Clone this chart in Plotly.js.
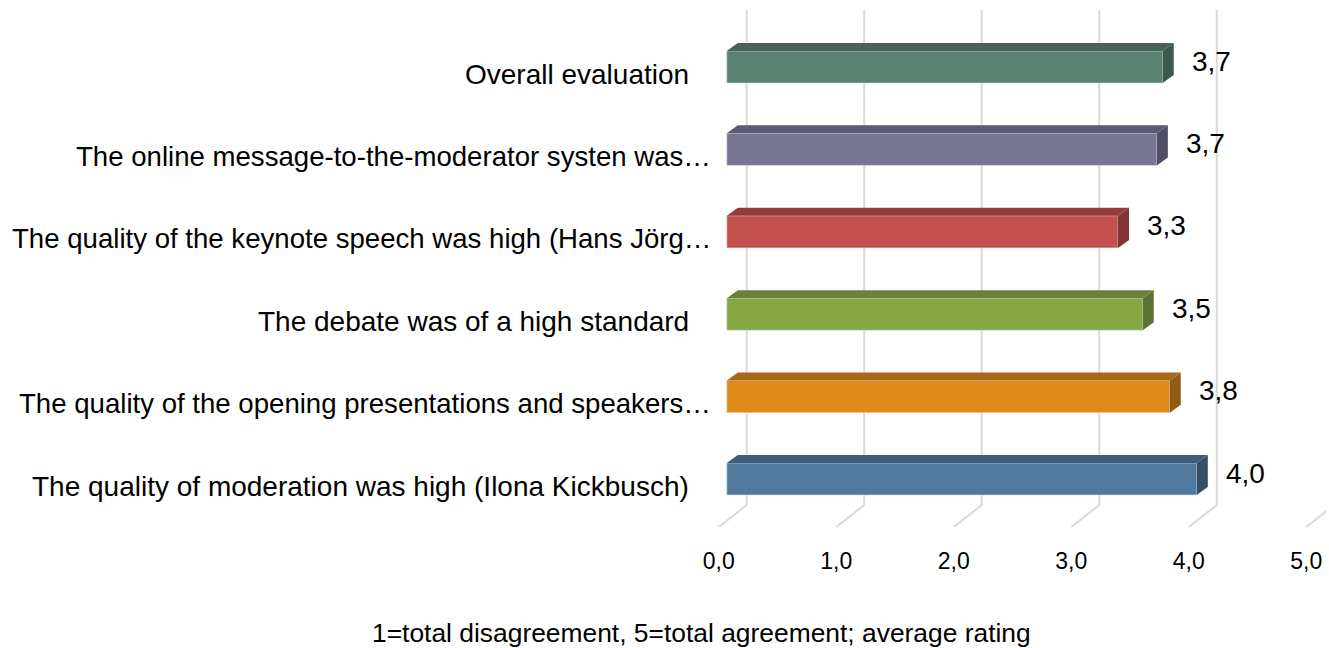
<!DOCTYPE html>
<html>
<head>
<meta charset="utf-8">
<script src="https://cdn.plot.ly/plotly-3.0.1.min.js"></script>
<style>html,body{margin:0;padding:0;background:#fff;}#chart{width:1329px;height:648px;}</style>
</head>
<body>
<div id="chart"></div>
<script>
// ---- data (bottom to top) ----
const categories = [
  "The quality of moderation was high (Ilona Kickbusch)",
  "The quality of the opening presentations and speakers…",
  "The debate was of a high standard",
  "The quality of the keynote speech was high (Hans Jörg…",
  "The online message-to-the-moderator systen was…",
  "Overall evaluation"
];
const values = [4.00, 3.77, 3.54, 3.33, 3.66, 3.71];
const valueLabels = ["4,0", "3,8", "3,5", "3,3", "3,7", "3,7"];
const tickValues = [0, 1, 2, 3, 4, 5];
const tickLabels = ["0,0", "1,0", "2,0", "3,0", "4,0", "5,0"];
const axisTitle = "1=total disagreement, 5=total agreement; average rating";

// ---- styles ----
const frontColors = ["#527a9f", "#e08a1a", "#86a643", "#c2504d", "#787592", "#5a8272"];
const topColors   = ["#3f5e7c", "#a86818", "#67833a", "#953d3a", "#5c5a72", "#466457"];
const sideColors  = ["#364f69", "#935b14", "#5a7232", "#823432", "#504e64", "#3d574b"];

const FONT = "Liberation Sans, Arial, sans-serif";
const BAR_W = 0.39;       // bar thickness (category units)
const DX = 0.094;         // bar depth, x units
const DY = 0.097;         // bar depth, y units
const BACK_X = 0.17;      // back plane offset, x units
const FLOOR_BACK_Y = -0.316;
const FLOOR_FRONT_X = -0.068;
const Y_MIN = -0.5825, Y_MAX = 5.692;

const ypos = categories.map((c, i) => i);

const traces = [{
  type: "bar",
  orientation: "h",
  x: values,
  y: ypos,
  base: 0,
  width: BAR_W,
  marker: {color: frontColors, line: {color: "rgba(220,230,240,0.6)", width: 1}},
  hoverinfo: "skip",
  showlegend: false
}];

const shapes = [];
// back-plane gridlines and floor diagonals
tickValues.forEach(t => {
  shapes.push({type: "line", xref: "x", yref: "y", layer: "below",
    x0: t + BACK_X, x1: t + BACK_X, y0: FLOOR_BACK_Y, y1: Y_MAX,
    line: {color: "#d9d9d9", width: 2}});
  shapes.push({type: "line", xref: "x", yref: "y", layer: "below",
    x0: t + BACK_X, x1: t + FLOOR_FRONT_X, y0: FLOOR_BACK_Y, y1: Y_MIN,
    line: {color: "#d9d9d9", width: 2}});
});
// 3D faces of bars
values.forEach((v, i) => {
  const yt = ypos[i] + BAR_W / 2, yb = ypos[i] - BAR_W / 2;
  shapes.push({type: "path", xref: "x", yref: "y", layer: "above",
    path: `M 0,${yt} L ${DX},${yt + DY} L ${v + DX},${yt + DY} L ${v},${yt} Z`,
    fillcolor: topColors[i], line: {width: 0}});
  shapes.push({type: "path", xref: "x", yref: "y", layer: "above",
    path: `M ${v},${yb} L ${v},${yt} L ${v + DX},${yt + DY} L ${v + DX},${yb + DY} Z`,
    fillcolor: sideColors[i], line: {width: 0}});
});

const annotations = [];
categories.forEach((c, i) => {
  const truncated = c.endsWith("…");
  annotations.push({xref: "x", yref: "y", x: 0, y: ypos[i], text: c, showarrow: false,
    xanchor: "right", yanchor: "middle", xshift: truncated ? -14 : -36, yshift: -7,
    font: {family: FONT, size: truncated ? 27.6 : 28, color: "#000"}});
});
values.forEach((v, i) => {
  annotations.push({xref: "x", yref: "y", x: v, y: ypos[i], text: valueLabels[i], showarrow: false,
    xanchor: "left", yanchor: "middle", xshift: 27, yshift: 6,
    font: {family: FONT, size: 28, color: "#000"}});
});
annotations.push({xref: "paper", yref: "paper", x: -0.0225, y: -0.205, text: axisTitle,
  showarrow: false, xanchor: "center", yanchor: "middle",
  font: {family: FONT, size: 26.4, color: "#000"}});

const layout = {
  width: 1329, height: 648,
  margin: {l: 715, r: 3, t: 10, b: 121},
  paper_bgcolor: "#fff", plot_bgcolor: "#fff",
  font: {family: FONT, color: "#000"},
  xaxis: {range: [-0.1, 5.1], tickvals: tickValues, ticktext: tickLabels,
    showgrid: false, zeroline: false, showline: false, ticks: "",
    ticklabelshift: -8, ticklabelstandoff: 18, automargin: false,
    tickfont: {family: FONT, size: 23, color: "#000"}},
  yaxis: {range: [Y_MIN, Y_MAX], showticklabels: false, showgrid: false,
    zeroline: false, showline: false, ticks: "", automargin: false},
  shapes: shapes,
  annotations: annotations,
  bargap: 0
};

Plotly.newPlot("chart", traces, layout, {staticPlot: true, displayModeBar: false});
</script>
</body>
</html>
